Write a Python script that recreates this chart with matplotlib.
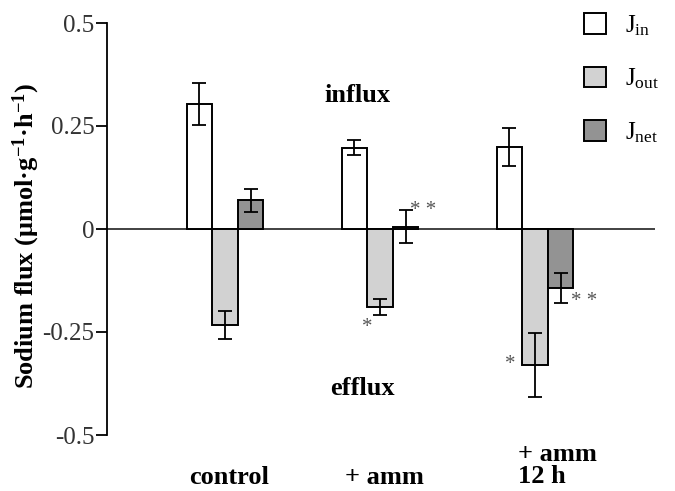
import numpy as np
import matplotlib
matplotlib.use('Agg')
import matplotlib.pyplot as plt

plt.rcParams['font.family'] = ['Liberation Serif', 'DejaVu Serif']
plt.rcParams['mathtext.fontset'] = 'custom'
plt.rcParams['mathtext.rm'] = 'Liberation Serif'
plt.rcParams['mathtext.bf'] = 'Liberation Serif:bold'
plt.rcParams['mathtext.it'] = 'Liberation Serif:italic'

# data
groups = ['control', '+ amm', '+ amm\n12 h']
j_in = [0.303, 0.197, 0.199]
j_in_err = [0.051, 0.018, 0.045]
j_out = [-0.233, -0.189, -0.330]
j_out_err = [0.034, 0.019, 0.078]
j_net = [0.070, 0.005, -0.143]
j_net_err = [0.028, 0.040, 0.037]

c_in, c_out, c_net = 'white', '#d2d2d2', '#939393'

fig = plt.figure(figsize=(6.75, 4.91), dpi=100)
ax = fig.add_axes([107/675, 56/491, 548/675, 412/491])

x = np.arange(len(groups))
w = 0.165
ekw = dict(fmt='none', ecolor='black', elinewidth=1.3, capsize=4.7, capthick=1.3, zorder=4)

b1 = ax.bar(x - w, j_in, w, color=c_in, edgecolor='black', linewidth=1.4, zorder=3)
b2 = ax.bar(x, j_out, w, color=c_out, edgecolor='black', linewidth=1.4, zorder=3)
b3 = ax.bar(x + w, j_net, w, color=c_net, edgecolor='black', linewidth=1.4, zorder=3)
ax.errorbar(x - w, j_in, yerr=j_in_err, **ekw)
ax.errorbar(x, j_out, yerr=j_out_err, **ekw)
ax.errorbar(x + w, j_net, yerr=j_net_err, **ekw)

ax.axhline(0, color='#333333', lw=1.3, zorder=2)

ax.set_xlim(-0.761, 2.774)
ax.set_ylim(-0.5, 0.5)
ax.set_yticks([0.5, 0.25, 0, -0.25, -0.5])
ax.set_yticklabels(['0.5', '0.25', '0', '-0.25', '-0.5'], fontsize=18, color='#333333')
ax.tick_params(axis='y', direction='out', length=8, width=1.3, pad=1)
ax.set_xticks([])
for s in ['top', 'right', 'bottom']:
    ax.spines[s].set_visible(False)
ax.spines['left'].set_linewidth(1.3)

ax.set_ylabel(r'Sodium flux ($\mathbf{\mu}$mol·g$^{\mathbf{-1}}$·h$^{\mathbf{-1}}$)',
              fontsize=19, fontweight='bold')
ax.yaxis.set_label_coords(-0.118, 0.483)

# significance marks
star_kw = dict(fontsize=15, color='#555555', ha='center', va='center')
ax.text(0.916, -0.238, '*', **star_kw)
ax.text(1.839, -0.328, '*', **star_kw)
ax.text(2.316, -0.177, '* *', **star_kw)
ax.text(1.277, 0.046, '* *', **star_kw)

ax.text(0.855, 0.325, 'influx', fontsize=19, fontweight='bold', ha='center', va='center')
ax.text(0.884, -0.388, 'efflux', fontsize=19, fontweight='bold', ha='center', va='center')

# group labels under the axis
lab_kw = dict(fontsize=19, fontweight='bold', va='center', clip_on=False)
ax.text(0.026, -0.604, groups[0], ha='center', **lab_kw)
ax.text(1.026, -0.604, groups[1], ha='center', **lab_kw)
ax.text(1.89, -0.574, groups[2], ha='left', linespacing=0.95, **lab_kw)

fig.legend([b1, b2, b3], [r'J$_{\rm in}$', r'J$_{\rm out}$', r'J$_{\rm net}$'],
           loc='upper left', bbox_to_anchor=(584/675, 1 - 13/491), frameon=False,
           borderpad=0, borderaxespad=0,
           fontsize=18, handlelength=0.88, handleheight=0.88, labelspacing=1.16,
           handletextpad=0.76)

fig.savefig('out.png', dpi=100)
